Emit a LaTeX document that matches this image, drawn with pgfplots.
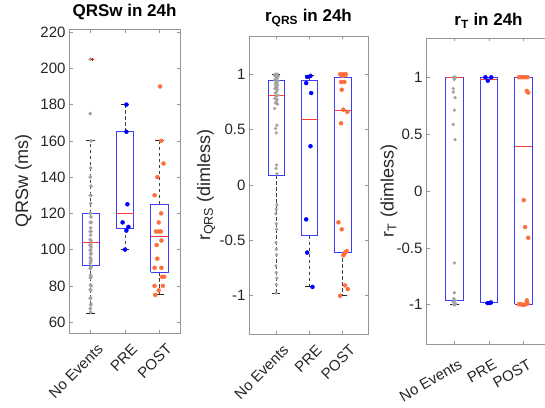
\documentclass[border=0pt]{standalone}
\usepackage{fontspec}
\setmainfont{Liberation Sans}
\usepackage{pgfplots}
\pgfplotsset{compat=1.18}

\definecolor{ptgray}{RGB}{163,163,163}
\definecolor{ptorange}{RGB}{255,110,60}
\definecolor{tickgray}{RGB}{38,38,38}
\definecolor{axgray}{RGB}{150,150,150}
\definecolor{boxblue}{RGB}{60,60,255}
\definecolor{medred}{RGB}{255,60,60}

\pgfplotsset{
  panel/.style={
    scale only axis, anchor=south west,
    axis line style={draw=axgray, line width=0.6pt},
    tick style={draw=axgray, line width=0.6pt},
    major tick length=3.5pt, tick align=inside,
    xtick={1,2,3}, xticklabels={No Events,PRE,POST},
    ticklabel style={font=\fontsize{15}{18}\selectfont, text=tickgray},
    label style={font=\fontsize{18}{21}\selectfont, text=tickgray},
    title style={font=\bfseries\fontsize{17}{20}\selectfont},
    /pgf/number format/assume math mode=true,
    unbounded coords=jump,
  },
  boxes/.style={boxblue, line width=0.9pt, mark=none, line join=miter},
  meds/.style={medred, line width=0.9pt, mark=none},
  whisk/.style={black!75, line width=0.9pt, mark=none, dash pattern=on 3.5pt off 2.5pt},
  caps/.style={black!85, line width=0.9pt, mark=none},
  dots/.style={only marks, mark=*, mark size=#1},
}

\begin{document}
\begin{tikzpicture}
\path[use as bounding box] (0,0) rectangle (545pt,407pt);

% ---- QRSw ----
\begin{axis}[panel, at={(69pt,74pt)}, width=111pt, height=304pt,
  xmin=0.37, xmax=3.6, ymin=54, ymax=221.7,
  ytick={60,80,...,220},
  xticklabel style={xshift=6pt, yshift=-5pt, rotate=45, anchor=north east},
  ylabel style={at={(axis description cs:-0.41,0.5)}, anchor=center},
  title={QRSw in 24h}, ylabel={QRSw (ms)}]
\addplot[whisk] coordinates {(1,120)(1,160)(nan,nan)(1,91.3)(1,65)(nan,nan)
(2,165)(2,180)(nan,nan)(2,111.5)(2,100)(nan,nan)(3,125)(3,160)(nan,nan)(3,87.5)(3,75)};
\addplot[caps] coordinates {(0.875,160)(1.125,160)(nan,nan)(0.875,65)(1.125,65)(nan,nan)
(1.875,180)(2.125,180)(nan,nan)(1.875,100)(2.125,100)(nan,nan)
(2.875,160)(3.125,160)(nan,nan)(2.875,75)(3.125,75)};
\addplot[boxes] coordinates {(0.75,91.3)(1.25,91.3)(1.25,120)(0.75,120)(0.75,91.3)(nan,nan)
(1.75,111.5)(2.25,111.5)(2.25,165)(1.75,165)(1.75,111.5)(nan,nan)
(2.75,87.5)(3.25,87.5)(3.25,125)(2.75,125)(2.75,87.5)};
\addplot[meds] coordinates {(0.75,104)(1.25,104)(nan,nan)(1.75,120)(2.25,120)(nan,nan)(2.75,107.5)(3.25,107.5)};
\addplot[ptgray, dots=1.7] coordinates {
(0.99,205)(0.99,175)(1.01,160)(1.00,145)(0.99,140)(1.01,135)(0.99,130)(1.01,130)
(1.00,125.5)(1.00,120)(0.98,120)(1.01,118)(0.99,115)(1.02,115)(1.00,112)(0.99,110)
(1.01,110)(1.00,108)(0.99,105.5)(1.01,105)(1.00,103)(0.98,102.5)(1.01,101.5)(1.00,100)
(0.99,99.5)(1.01,98)(1.00,97.5)(0.99,95.5)(1.01,94.5)(1.00,93.5)(0.99,92.5)(1.01,90.5)
(1.00,90)(0.99,89.5)(1.00,86)(1.01,85)(0.99,84.5)(1.00,80.5)(1.01,80)(0.99,78)
(1.00,77.5)(1.00,73.5)(0.99,73)(1.01,70)(1.00,69.5)(0.99,67.5)(1.00,65.5)};
\addplot[red, only marks, mark=+, mark size=1.5] coordinates {(1.04,205)};
\addplot[blue, dots=2] coordinates {
(2.04,180)(2.04,165)(2.07,125)(1.93,115)(2.1,112.5)(2.04,110.5)(2.0,100)};
\addplot[ptorange, dots=2] coordinates {
(3.02,190)(3.05,160)(3.12,147.5)(2.94,140)(2.86,130)(3.05,120)(2.98,115)(2.9,110)
(2.98,110)(3.04,110)(3.06,105)(2.92,102.5)(2.94,95)(2.86,90)(3.06,90)(3.14,85)
(3.08,85)(2.86,80)(3.1,80)(2.98,77.5)(2.88,75)};
\end{axis}

% ---- r_QRS ----
\begin{axis}[panel, at={(249pt,73pt)}, width=119pt, height=298pt,
  xmin=0.18, xmax=3.76, ymin=-1.345, ymax=1.345,
  ytick={-1,-0.5,0,0.5,1},
  xticklabel style={xshift=6pt, yshift=-5pt, rotate=45, anchor=north east},
  ylabel style={at={(axis description cs:-0.36,0.5)}, anchor=center},
  title={r\textsubscript{QRS} in 24h}, ylabel={r\textsubscript{QRS} (dimless)}]
\addplot[whisk] coordinates {(1,0.946)(1,1.0)(nan,nan)(1,0.09)(1,-0.976)(nan,nan)
(2,0.946)(2,0.985)(nan,nan)(2,-0.458)(2,-0.915)(nan,nan)(3,0.975)(3,1.0)(nan,nan)(3,-0.605)(3,-1.0)};
\addplot[caps] coordinates {(0.875,1.0)(1.125,1.0)(nan,nan)(0.875,-0.976)(1.125,-0.976)(nan,nan)
(1.875,0.985)(2.125,0.985)(nan,nan)(1.875,-0.915)(2.125,-0.915)(nan,nan)
(2.875,1.0)(3.125,1.0)(nan,nan)(2.875,-1.0)(3.125,-1.0)};
\addplot[boxes] coordinates {(0.75,0.09)(1.25,0.09)(1.25,0.946)(0.75,0.946)(0.75,0.09)(nan,nan)
(1.75,-0.458)(2.25,-0.458)(2.25,0.946)(1.75,0.946)(1.75,-0.458)(nan,nan)
(2.75,-0.605)(3.25,-0.605)(3.25,0.975)(2.75,0.975)(2.75,-0.605)};
\addplot[meds] coordinates {(0.75,0.807)(1.25,0.807)(nan,nan)(1.75,0.59)(2.25,0.59)(nan,nan)(2.75,0.675)(3.25,0.675)};
\addplot[ptgray, dots=1.5] coordinates {
(0.97,1.0)(1.03,1.0)(1.0,0.995)(0.95,0.99)(1.06,0.985)(0.98,0.98)(1.04,0.97)(1.0,0.96)
(0.96,0.95)(1.05,0.94)(0.99,0.93)(1.02,0.92)(0.97,0.91)(1.04,0.9)(0.99,0.89)(1.02,0.88)
(0.96,0.87)(1.03,0.86)(1.0,0.84)(0.97,0.83)(1.05,0.81)(1.0,0.8)(0.96,0.78)(1.03,0.77)
(1.0,0.75)(0.98,0.74)(1.04,0.73)(0.95,0.69)(1.02,0.54)(0.98,0.51)(1.0,0.47)(1.01,0.18)
(0.99,0.15)(1.02,0.1)(1.02,-0.18)(1.0,-0.22)(0.99,-0.26)(1.0,-0.35)(1.01,-0.4)(0.99,-0.52)
(1.0,-0.58)(1.01,-0.63)(0.99,-0.73)(1.0,-0.79)(1.02,-0.84)(1.0,-0.9)(0.99,-0.976)};
\addplot[blue, dots=2] coordinates {
(1.93,0.975)(2.03,0.985)(1.9,0.92)(2.05,0.83)(2.03,0.35)(1.9,-0.31)(1.93,-0.61)(2.09,-0.92)};
\addplot[ptorange, dots=2] coordinates {
(2.92,1.0)(2.97,0.995)(3.02,1.0)(3.06,0.99)(3.09,1.0)(2.99,0.985)(2.95,0.93)(3.05,0.93)
(2.97,0.86)(3.02,0.68)(3.14,0.66)(2.95,0.557)(2.87,-0.337)(2.97,-0.4)(3.07,-0.61)(3.12,-0.596)
(3.05,-0.62)(3.02,-0.635)(3.07,-0.906)(3.15,-0.94)(2.92,-1.0)};
\end{axis}

% ---- r_T ----
\begin{axis}[panel, at={(426pt,63pt)}, width=125pt, height=306pt,
  xmin=0.18, xmax=3.8, ymin=-1.345, ymax=1.345,
  ytick={-1,-0.5,0,0.5,1},
  xticklabel style={xshift=5pt, yshift=-10pt, rotate=30, anchor=north east},
  ylabel style={at={(axis description cs:-0.296,0.5)}, anchor=center},
  title={r\textsubscript{T} in 24h}, ylabel={r\textsubscript{T} (dimless)}]
\addplot[whisk] coordinates {(1,-0.965)(1,-1.0)(nan,nan)(2,-0.98)(2,-0.985)(nan,nan)(3,-0.993)(3,-0.995)};
\addplot[caps] coordinates {(0.875,-1.0)(1.125,-1.0)(nan,nan)(1.875,-0.985)(2.125,-0.985)(nan,nan)
(2.875,-0.995)(3.125,-0.995)};
\addplot[boxes] coordinates {(0.75,-0.965)(1.25,-0.965)(1.25,1.0)(0.75,1.0)(0.75,-0.965)(nan,nan)
(1.75,-0.98)(2.25,-0.98)(2.25,1.0)(1.75,1.0)(1.75,-0.98)(nan,nan)
(2.75,-0.993)(3.25,-0.993)(3.25,1.0)(2.75,1.0)(2.75,-0.993)};
\addplot[meds] coordinates {(0.75,0.995)(1.25,0.995)(nan,nan)(1.75,0.983)(2.25,0.983)(nan,nan)(2.75,0.394)(3.25,0.394)};
\addplot[ptgray, dots=1.5] coordinates {
(0.97,1.0)(1.0,1.0)(1.03,1.0)(0.98,0.995)(1.02,0.99)(1.0,0.98)(0.97,0.9)(0.97,0.87)
(1.02,0.82)(1.0,0.71)(0.97,0.585)(1.02,0.452)(1.0,-0.633)(1.0,-0.895)(0.98,-0.945)(1.02,-0.96)
(0.97,-0.975)(1.0,-0.985)(1.03,-0.99)(0.98,-1.0)(1.02,-1.0)};
\addplot[blue, dots=2] coordinates {
(1.9,1.0)(2.07,1.0)(1.97,0.97)(1.97,-0.985)(2.02,-0.985)(2.06,-0.98)};
\addplot[ptorange, dots=2] coordinates {
(2.87,1.0)(2.92,1.0)(2.97,1.0)(3.02,1.0)(3.07,1.0)(3.12,1.0)(3.1,0.88)(3.14,0.865)
(3.01,-0.08)(3.05,-0.317)(3.14,-0.411)(3.1,-0.962)(2.87,-0.995)(2.92,-0.995)(2.97,-1.0)
(3.02,-1.0)(3.07,-0.995)(3.12,-0.99)};
\end{axis}
\end{tikzpicture}
\end{document}
